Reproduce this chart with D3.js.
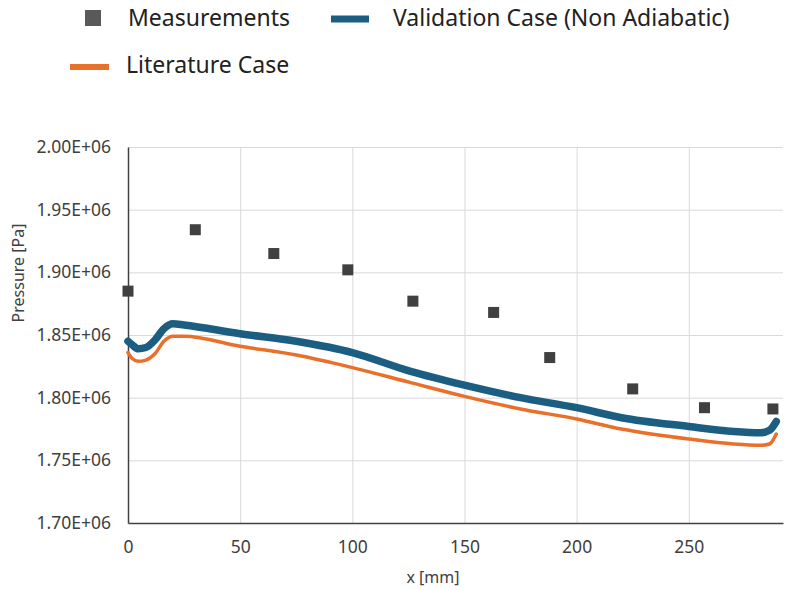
<!DOCTYPE html>
<html lang="en">
<head>
  <meta charset="UTF-8">
  <title>Pressure along x</title>
  <script src="https://d3js.org/d3.v7.min.js"></script>
  <style>
    body { margin: 0; background: #fff; font-family: 'Noto Sans', sans-serif; }
    svg { display: block; }
    .grid line { stroke: #d9d9d9; stroke-width: 1; }
    .grid path { stroke-width: 0; }
  </style>
</head>
<body>
<div id="chart"></div>
<script>
  // Measurements (squares)
  const measX = [0, 30, 65, 98, 127, 163, 188, 225, 257, 287.5];
  const measP = [1.885e6, 1.934e6, 1.915e6, 1.902e6, 1.877e6, 1.868e6, 1.832e6, 1.807e6, 1.792e6, 1.791e6];

  // Validation case (Non Adiabatic)
  const valX = [0, 2, 4.5, 8, 12, 16, 20, 25, 50, 75, 100, 126, 150, 175, 200, 220, 250, 270, 282, 286, 289];
  const valP = [1.845e6, 1.842e6, 1.839e6, 1.840e6, 1.846e6, 1.855e6, 1.859e6, 1.858e6, 1.851e6, 1.845e6,
                1.836e6, 1.821e6, 1.810e6, 1.800e6, 1.792e6, 1.784e6, 1.777e6, 1.773e6, 1.772e6, 1.774e6, 1.781e6];

  // Literature case
  const litX = valX;
  const litP = [1.836e6, 1.831e6, 1.829e6, 1.830e6, 1.835e6, 1.845e6, 1.849e6, 1.849e6, 1.841e6, 1.834e6,
                1.824e6, 1.812e6, 1.801e6, 1.791e6, 1.783e6, 1.775e6, 1.767e6, 1.763e6, 1.762e6, 1.763e6, 1.771e6];

  const yTicks = [1.70e6, 1.75e6, 1.80e6, 1.85e6, 1.90e6, 1.95e6, 2.00e6];
  const xTicks = [0, 50, 100, 150, 200, 250];

  const W = 788, H = 590;
  const margin = { top: 147, right: 5, bottom: 67, left: 128 };
  const width = W - margin.left - margin.right,
        height = H - margin.top - margin.bottom;

  const svgRoot = d3.select("#chart").append("svg")
    .attr("width", W).attr("height", H);
  const svg = svgRoot.append("g")
    .attr("transform", `translate(${margin.left},${margin.top})`);

  const x = d3.scaleLinear().domain([0, 292]).range([0, width]);
  const y = d3.scaleLinear().domain([1.70e6, 2.00e6]).range([height, 0]);

  // gridlines
  svg.append("g").attr("class", "grid")
    .call(d3.axisLeft(y).tickValues(yTicks.slice(1)).tickSize(-width).tickFormat(""));
  svg.append("g").attr("class", "grid")
    .attr("transform", `translate(0,${height})`)
    .call(d3.axisBottom(x).tickValues(xTicks.slice(1)).tickSize(-height).tickFormat(""));

  // axes
  const fmt = v => (v / 1e6).toFixed(2) + "E+06";
  const yAxis = svg.append("g")
    .call(d3.axisLeft(y).tickValues(yTicks).tickSize(0).tickPadding(17).tickFormat(fmt))
    .attr("font-family", "'Noto Sans', sans-serif")
    .attr("font-size", 17.5);
  yAxis.select(".domain").attr("stroke", "#404040").attr("stroke-width", 1.5);
  yAxis.selectAll(".tick text").attr("fill", "#404040");

  const xAxis = svg.append("g")
    .attr("transform", `translate(0,${height})`)
    .call(d3.axisBottom(x).tickValues(xTicks).tickSize(0).tickPadding(18).tickFormat(d3.format("d")))
    .attr("font-family", "'Noto Sans', sans-serif")
    .attr("font-size", 17.5);
  xAxis.select(".domain").attr("stroke", "#404040").attr("stroke-width", 1.5);
  xAxis.selectAll(".tick text").attr("fill", "#404040");

  // axis titles
  svg.append("text")
    .attr("transform", "rotate(-90)")
    .attr("x", -(273 - margin.top))
    .attr("y", 18 - margin.left)
    .attr("dy", "0.35em")
    .attr("text-anchor", "middle")
    .attr("fill", "#404040")
    .style("font-size", "16px")
    .text("Pressure [Pa]");

  svg.append("text")
    .attr("x", 433 - margin.left)
    .attr("y", 577 - margin.top)
    .attr("dy", "0.35em")
    .attr("text-anchor", "middle")
    .attr("fill", "#404040")
    .style("font-size", "16px")
    .text("x [mm]");

  // lines
  const line = d3.line()
    .x(d => x(d[0]))
    .y(d => y(d[1]))
    .curve(d3.curveMonotoneX);

  svg.append("path")
    .datum(valX.map((v, i) => [v, valP[i]]))
    .attr("fill", "none")
    .attr("stroke", "#1b5e82")
    .attr("stroke-width", 7.5)
    .attr("stroke-linecap", "round")
    .attr("d", line);

  svg.append("path")
    .datum(litX.map((v, i) => [v, litP[i]]))
    .attr("fill", "none")
    .attr("stroke", "#e8702a")
    .attr("stroke-width", 3.5)
    .attr("stroke-linecap", "round")
    .attr("d", line);

  // measurement squares
  const sq = 11;
  svg.selectAll(".meas")
    .data(measX.map((v, i) => [v, measP[i]]))
    .enter().append("rect")
    .attr("class", "meas")
    .attr("x", d => x(d[0]) - sq / 2)
    .attr("y", d => y(d[1]) - sq / 2)
    .attr("width", sq).attr("height", sq)
    .attr("fill", "#404040");

  // legend
  const legend = svgRoot.append("g").style("font-size", "23px").attr("fill", "#222");
  legend.append("rect").attr("x", 85).attr("y", 10).attr("width", 16).attr("height", 16).attr("fill", "#595959");
  legend.append("text").attr("x", 128).attr("y", 18).attr("dy", "0.35em").text("Measurements");
  legend.append("line").attr("x1", 331).attr("x2", 369).attr("y1", 19).attr("y2", 19)
    .attr("stroke", "#1b5e82").attr("stroke-width", 7);
  legend.append("text").attr("x", 393).attr("y", 18).attr("dy", "0.35em").text("Validation Case (Non Adiabatic)");
  legend.append("line").attr("x1", 70).attr("x2", 109).attr("y1", 67).attr("y2", 67)
    .attr("stroke", "#e8702a").attr("stroke-width", 6);
  legend.append("text").attr("x", 126).attr("y", 65).attr("dy", "0.35em").text("Literature Case");
</script>
</body>
</html>
